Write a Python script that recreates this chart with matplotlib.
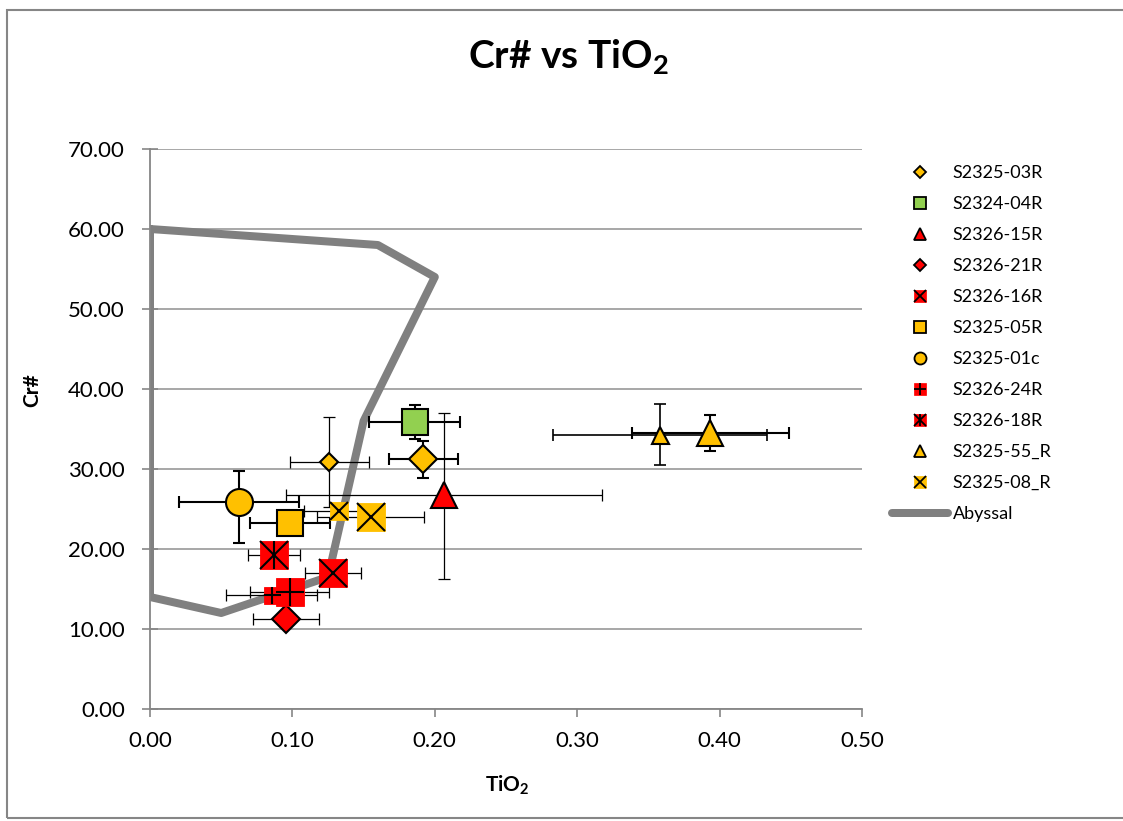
import matplotlib
matplotlib.use("Agg")
import matplotlib.pyplot as plt
from matplotlib.lines import Line2D
from matplotlib.patches import Rectangle

plt.rcParams['font.family'] = ['Lato', 'DejaVu Sans']
plt.rcParams['mathtext.fontset'] = 'custom'
plt.rcParams['mathtext.rm'] = 'Lato'
plt.rcParams['mathtext.bf'] = 'Lato:bold'
plt.rcParams['mathtext.it'] = 'Lato:italic'

# ---- data -------------------------------------------------------------
series_names = ["S2325-03R", "S2324-04R", "S2326-15R", "S2326-21R",
                "S2326-16R", "S2325-05R", "S2325-01c", "S2326-24R",
                "S2326-18R", "S2325-55_R", "S2325-08_R"]

# one entry per analysed grain
point_series = ["S2325-03R", "S2325-03R", "S2324-04R", "S2326-15R",
                "S2326-21R", "S2326-16R", "S2325-05R", "S2325-01c",
                "S2326-24R", "S2326-24R", "S2326-18R", "S2325-55_R",
                "S2325-55_R", "S2325-08_R", "S2325-08_R"]
point_tio2 = [0.126, 0.192, 0.186, 0.2065, 0.0955, 0.1285, 0.0985, 0.0625,
              0.0855, 0.098, 0.087, 0.358, 0.3935, 0.133, 0.155]
point_cr = [30.9, 31.2, 35.9, 26.7, 11.3, 17.0, 23.2, 25.9,
            14.3, 14.6, 19.2, 34.2, 34.5, 24.7, 24.0]
point_tio2_err = [0.028, 0.0245, 0.032, 0.111, 0.023, 0.0195, 0.028, 0.042,
                  0.032, 0.028, 0.0185, 0.075, 0.055, 0.025, 0.0375]
point_cr_err_minus = [5.6, 2.3, 2.1, 10.4, 0.0, 0.0, 0.0, 5.2,
                      0.0, 0.0, 0.0, 3.7, 2.3, 0.0, 0.0]
point_cr_err_plus = [5.6, 2.3, 2.1, 10.3, 0.0, 0.0, 0.0, 3.8,
                     0.0, 0.0, 0.0, 3.9, 2.3, 0.0, 0.0]

abyssal_tio2 = [0.0, 0.16, 0.20, 0.15, 0.125, 0.05, 0.0, 0.0]
abyssal_cr = [60.0, 58.0, 54.0, 36.0, 16.5, 12.0, 14.0, 60.0]

x_ticks = [0.0, 0.1, 0.2, 0.3, 0.4, 0.5]
y_ticks = [0, 10, 20, 30, 40, 50, 60, 70]

# ---- styling ----------------------------------------------------------
ORANGE = "#FFC000"
RED = "#FF0000"
GREEN = "#92D050"
GREY = "#808080"

# marker shape, fill, outlined?, overlay glyphs
series_style = {
    "S2325-03R": ("D", ORANGE, True, []),
    "S2324-04R": ("s", GREEN, True, []),
    "S2326-15R": ("^", RED, True, []),
    "S2326-21R": ("D", RED, True, []),
    "S2326-16R": ("s", RED, False, ["x"]),
    "S2325-05R": ("s", ORANGE, True, []),
    "S2325-01c": ("o", ORANGE, True, []),
    "S2326-24R": ("s", RED, False, ["+"]),
    "S2326-18R": ("s", RED, False, ["x", "|"]),
    "S2325-55_R": ("^", ORANGE, True, []),
    "S2325-08_R": ("s", ORANGE, False, ["x"]),
}

# marker width in pixels and error-bar weight, per grain
point_px = [17, 27, 27, 27, 27, 28, 27, 27, 17, 28, 28, 17, 27, 18, 28]
point_elw = [0.9, 1.5, 1.5, 0.9, 0.9, 0.9, 1.5, 1.5,
             0.9, 0.9, 0.9, 1.2, 1.5, 0.9, 0.9]

W, H, DPI = 1123, 821, 100
PX = 72.0 / DPI  # points per pixel


def msize(marker, px):
    return px * PX / (1.414 if marker == "D" else 1.0)


fig = plt.figure(figsize=(W / DPI, H / DPI), dpi=DPI)
ax = fig.add_axes([150 / W, 1 - 709 / H, 712 / W, 560 / H])

# outer chart border
fig.add_artist(Rectangle((7 / W, 3 / H), 1.2, 1 - 13 / H, transform=fig.transFigure,
                         fill=False, edgecolor="#868686", linewidth=1.5, clip_on=False))

ax.plot(abyssal_tio2, abyssal_cr, color=GREY, linewidth=8 * PX,
        solid_joinstyle="round", solid_capstyle="round", zorder=2)

for i, name in enumerate(point_series):
    marker, face, outlined, overlays = series_style[name]
    x, y = point_tio2[i], point_cr[i]
    lo, hi = point_cr_err_minus[i], point_cr_err_plus[i]
    yerr = [[lo], [hi]] if (lo > 0 or hi > 0) else None
    ax.errorbar([x], [y], xerr=[point_tio2_err[i]], yerr=yerr,
                fmt="none", ecolor="black", elinewidth=point_elw[i],
                capsize=4, capthick=point_elw[i], zorder=3)
    ms = msize(marker, point_px[i])
    ax.plot([x], [y], linestyle="none", marker=marker, markersize=ms,
            markerfacecolor=face,
            markeredgecolor="black" if outlined else face,
            markeredgewidth=1.5 if outlined else 0.6, zorder=4)
    for ov in overlays:
        ax.plot([x], [y], linestyle="none", marker=ov, markersize=ms,
                markeredgecolor="black", markeredgewidth=1.5, zorder=5)

ax.set_xlim(0, 0.5)
ax.set_ylim(0, 70)
ax.set_xticks(x_ticks)
ax.set_yticks(y_ticks)
ax.set_xticklabels([f"{v:.2f}" for v in x_ticks])
ax.set_yticklabels([f"{v:.2f}" for v in y_ticks])

ax.grid(axis="y", color="#A0A0A0", linewidth=1.3)
ax.set_axisbelow(True)
for side in ("top", "right"):
    ax.spines[side].set_visible(False)
for side in ("left", "bottom"):
    ax.spines[side].set_color("#868686")
    ax.spines[side].set_linewidth(1.3)
ax.tick_params(axis="y", direction="inout", length=12, width=1.2, color="#868686",
               pad=12, labelsize=16)
ax.tick_params(axis="x", direction="out", length=6, width=1.2, color="#868686",
               pad=10, labelsize=16)

ax.set_xlabel(r"TiO$_\mathbf{2}$", fontsize=15, fontweight="bold")
ax.xaxis.set_label_coords((507 - 150) / 712, (709 - 785) / 560)
ax.xaxis.label.set_verticalalignment("center")
ax.set_ylabel("Cr#", fontsize=15, fontweight="bold")
ax.yaxis.set_label_coords((32 - 150) / 712, (709 - 390) / 560)
ax.yaxis.label.set_verticalalignment("center")

fig.text(568 / W, 1 - 68 / H, r"Cr# vs TiO$_\mathbf{2}$", fontsize=28,
         fontweight="bold", ha="center", va="baseline")

# legend with small versions of each marker
handles = []
for name in series_names:
    marker, face, outlined, overlays = series_style[name]
    ms = msize(marker, 12)
    parts = [Line2D([], [], linestyle="none", marker=marker, markersize=ms,
                    markerfacecolor=face,
                    markeredgecolor="black" if outlined else face,
                    markeredgewidth=1.3 if outlined else 0.5)]
    for ov in overlays:
        parts.append(Line2D([], [], linestyle="none", marker=ov, markersize=ms,
                            markeredgecolor="black", markeredgewidth=1.3))
    handles.append(tuple(parts))
handles.append(Line2D([], [], color=GREY, linewidth=8 * PX, solid_capstyle="round"))
labels = series_names + ["Abyssal"]

ax.legend(handles, labels, loc="upper left",
          bbox_to_anchor=(892 / W, 1 - 165 / H), bbox_transform=fig.transFigure,
          frameon=False, fontsize=13, numpoints=1, handlelength=3.1,
          handletextpad=0.25, labelspacing=0.83, borderpad=0, borderaxespad=0)

fig.savefig("out.png", dpi=DPI)
